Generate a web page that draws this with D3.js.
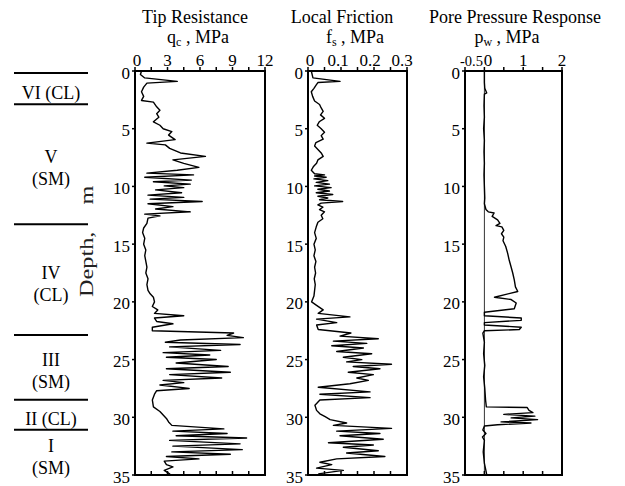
<!DOCTYPE html>
<html>
<head>
<meta charset="utf-8">
<script src="https://cdn.jsdelivr.net/npm/d3@7"></script>
<style>
  body { margin: 0; background: #fff; }
  svg { display: block; }
  text { font-family: "Liberation Serif", "Times New Roman", serif; fill: #000; }
</style>
</head>
<body>
<svg id="chart" width="625" height="486"></svg>
<script>
// Depth axis
const depthTicks = [0, 5, 10, 15, 20, 25, 30, 35];

// Soil layers (top depth of each layer, m)
const layerNames = ["VI", "V", "IV", "III", "II", "I"];
const layerSoils = ["CL", "SM", "CL", "SM", "CL", "SM"];
const layerTops = [0, 2.7, 13.1, 22.7, 28.3, 30.9];

// Tick values per panel
const tipTicks = [0, 3, 6, 9, 12];
const frictionTicks = [0, 0.1, 0.2, 0.3];
const poreTicks = [-0.5, 0, 1, 2];
const poreTickLabels = ["-0.5", "0", "1", "2"];

// [depth m, qc MPa]
const tipResistance = [
  [0.0,0.6],[0.3,0.5],[0.6,0.9],[0.9,3.9],[1.05,1.1],[1.4,0.8],[1.8,0.6],[2.2,0.8],[2.55,0.6],[2.7,1.7],
  [3.1,2.0],[3.4,2.3],[3.7,2.0],[4.0,2.2],[4.4,1.7],[4.7,2.3],[5.0,2.6],[5.25,3.4],[5.55,3.1],[5.95,3.7],
  [6.25,1.1],[6.4,2.8],[6.7,3.2],[7.1,4.2],[7.4,6.5],[7.7,3.5],[8.0,4.5],[8.35,5.9],[8.6,3.9],[8.85,1.1],
  [9.0,5.4],[9.2,0.9],[9.45,5.2],[9.6,1.7],[9.8,5.1],[9.95,2.7],[10.1,4.5],[10.3,1.9],[10.55,4.3],[10.75,1.2],
  [10.95,4.5],[11.1,1.4],[11.3,6.2],[11.5,1.2],[11.75,3.5],[11.95,1.9],[12.2,5.1],[12.4,0.9],[12.55,2.3],[12.75,1.2],
  [13.2,1.1],[13.6,0.8],[14.0,0.7],[14.5,0.9],[15.0,0.8],[15.5,1.0],[16.0,0.9],[16.5,1.0],[17.0,1.1],[17.5,1.0],
  [18.0,1.2],[18.5,1.1],[19.0,1.2],[19.3,1.4],[19.6,1.7],[20.0,1.8],[20.4,1.6],[20.7,2.1],[21.0,1.8],[21.2,4.5],
  [21.4,1.8],[21.7,2.0],[21.9,3.5],[22.2,1.6],[22.5,1.6],[22.7,9.1],[22.9,8.5],[23.1,10.0],[23.3,4.2],[23.5,2.8],
  [23.7,9.7],[23.9,3.2],[24.2,7.9],[24.4,2.6],[24.6,6.9],[24.8,2.9],[25.0,7.5],[25.3,3.8],[25.6,8.6],[25.8,2.9],
  [26.1,8.8],[26.3,3.2],[26.6,8.0],[26.8,2.6],[27.0,4.5],[27.2,2.3],[27.5,5.0],[27.7,2.0],[28.0,1.8],[28.5,1.6],
  [29.1,1.7],[29.5,2.3],[29.8,2.6],[30.1,2.9],[30.4,3.1],[30.7,3.4],[31.0,8.2],[31.2,3.5],[31.4,8.5],[31.6,3.8],
  [31.8,10.3],[32.0,3.2],[32.3,9.7],[32.5,3.5],[32.8,9.9],[33.0,3.4],[33.2,8.8],[33.4,2.9],[33.6,5.9],[33.8,2.7],
  [34.1,2.9],[34.3,3.5],[34.6,2.7],[34.9,3.2],[35.0,3.0]
];

// [depth m, fs MPa]
const localFriction = [
  [0.0,0.01],[0.6,0.015],[0.9,0.097],[1.0,0.03],[1.2,0.025],[1.5,0.018],[1.8,0.01],[2.2,0.014],[2.6,0.02],[2.9,0.035],
  [3.2,0.04],[3.5,0.046],[3.8,0.038],[4.1,0.05],[4.4,0.034],[4.7,0.028],[5.0,0.04],[5.3,0.05],[5.6,0.04],[5.9,0.046],
  [6.2,0.024],[6.5,0.02],[6.8,0.03],[7.1,0.04],[7.4,0.046],[7.7,0.03],[8.0,0.026],[8.3,0.016],[8.6,0.01],[8.9,0.02],
  [9.0,0.05],[9.1,0.02],[9.2,0.055],[9.35,0.018],[9.5,0.06],[9.65,0.025],[9.8,0.065],[9.95,0.02],[10.1,0.07],[10.25,0.03],
  [10.4,0.065],[10.55,0.025],[10.7,0.075],[10.85,0.03],[11.0,0.06],[11.15,0.035],[11.3,0.105],[11.45,0.04],[11.6,0.03],[11.8,0.045],
  [12.0,0.035],[12.2,0.05],[12.5,0.04],[12.8,0.045],[13.1,0.03],[13.5,0.025],[14.0,0.02],[14.5,0.025],[15.0,0.018],[15.5,0.022],
  [16.0,0.018],[16.5,0.024],[17.0,0.02],[17.5,0.023],[18.0,0.019],[18.5,0.022],[19.0,0.02],[19.5,0.018],[20.0,0.011],[20.3,0.026],
  [20.7,0.046],[21.0,0.031],[21.3,0.127],[21.5,0.026],[21.8,0.087],[22.0,0.026],[22.4,0.031],[22.7,0.13],[22.97,0.097],[23.2,0.213],
  [23.4,0.077],[23.6,0.178],[23.8,0.072],[24.0,0.168],[24.3,0.087],[24.5,0.193],[24.8,0.107],[25.0,0.163],[25.2,0.117],[25.4,0.253],
  [25.6,0.137],[25.8,0.218],[26.1,0.122],[26.3,0.198],[26.6,0.148],[26.8,0.183],[27.1,0.127],[27.4,0.031],[27.8,0.188],[28.0,0.036],
  [28.3,0.188],[28.5,0.036],[28.95,0.021],[29.4,0.026],[29.7,0.036],[29.95,0.052],[30.2,0.067],[30.5,0.117],[30.7,0.077],[30.96,0.253],
  [31.2,0.087],[31.4,0.218],[31.6,0.097],[31.9,0.228],[32.2,0.062],[32.4,0.198],[32.6,0.107],[32.9,0.213],[33.1,0.117],[33.4,0.233],
  [33.6,0.087],[33.9,0.036],[34.1,0.072],[34.4,0.026],[34.6,0.107],[34.9,0.031]
];

// [depth m, pw MPa]
const porePressure = [
  [0,0.0],[1.0,0.0],[1.5,0.01],[1.9,0.06],[2.0,0.0],[3.0,-0.01],[4.0,0.0],[5.0,-0.02],[6.0,0.0],[7.0,-0.01],
  [8.0,0.0],[9.0,-0.01],[10.0,0.0],[11.0,0.01],[11.5,0.0],[12.0,0.04],[12.2,0.1],[12.3,0.25],[12.6,0.2],[12.9,0.34],
  [13.2,0.4],[13.4,0.3],[13.5,0.45],[13.8,0.5],[14.1,0.44],[14.4,0.5],[14.7,0.48],[15.2,0.55],[15.8,0.6],[16.4,0.64],
  [17.0,0.69],[17.5,0.73],[18.1,0.77],[18.7,0.8],[19.1,0.86],[19.6,0.26],[19.8,0.69],[20.1,0.82],[20.6,0.77],[20.9,0.0],
  [21.2,0.0],[21.4,0.95],[21.6,0.95],[21.8,0.0],[22.0,0.0],[22.2,0.95],[22.4,0.9],[22.5,0.0],[22.7,-0.04],[23.5,0.0],
  [24.5,-0.02],[25.5,0.01],[26.5,-0.02],[27.5,0.01],[28.5,0.03],[29.1,0.05],[29.15,1.1],[29.4,1.15],[29.6,1.25],[29.75,0.5],
  [29.9,1.3],[30.05,0.69],[30.2,1.37],[30.4,0.43],[30.5,1.2],[30.65,0.34],[30.75,0.0],[31.1,-0.04],[31.4,0.04],[31.7,-0.05],
  [32.0,0.0],[33.0,-0.03],[34.0,0.0],[34.8,0.05],[35,0.06]
];

const svg = d3.select("#chart");
const plotTop = 71, plotBottom = 475;
const y = d3.scaleLinear().domain([0, 35]).range([plotTop, plotBottom]);

const panels = [
  { title: "Tip Resistance", sym: "q", sub: "c", titleX: 195, unitX: 198,
    x0: 135, x1: 265, domain: [0, 12], ticks: tipTicks, labels: tipTicks.map(String),
    labelDx: [2, 0, 0, 0, 0], labelSize: [], step: 1.5, data: tipResistance },
  { title: "Local Friction", sym: "f", sub: "s", titleX: 342, unitX: 355,
    x0: 308, x1: 407, domain: [0, 0.3], ticks: frictionTicks, labels: frictionTicks.map(String),
    labelDx: [2, -3, -4, -5], labelSize: [], step: 0.05, data: localFriction },
  { title: "Pore Pressure Response", sym: "p", sub: "w", titleX: 515, unitX: 507,
    x0: 465, x1: 562, domain: [-0.5, 2], ticks: poreTicks, labels: poreTickLabels,
    labelDx: [6.5, 3.5, 0, 0], labelSize: [14.5], step: 0.5, data: porePressure, zeroLine: true }
];

panels.forEach(p => {
  const x = d3.scaleLinear().domain(p.domain).range([p.x0, p.x1]);
  const g = svg.append("g");
  const allTicks = d3.range(p.domain[0], p.domain[1] + p.step / 2, p.step);

  // titles
  g.append("text").attr("x", p.titleX).attr("y", 23)
    .attr("text-anchor", "middle").style("font-size", "18px").text(p.title);
  const unit = g.append("text").attr("x", p.unitX).attr("y", 43)
    .attr("text-anchor", "middle").style("font-size", "18px");
  unit.append("tspan").text(p.sym);
  unit.append("tspan").attr("dy", 3).style("font-size", "12px").text(p.sub);
  unit.append("tspan").attr("dy", -3).text(" , MPa");

  // zero reference line
  if (p.zeroLine) {
    g.append("line").attr("x1", x(0)).attr("x2", x(0)).attr("y1", plotTop).attr("y2", plotBottom)
      .attr("stroke", "#000").attr("stroke-width", 0.8);
  }

  // profile
  g.append("path").datum(p.data)
    .attr("fill", "none").attr("stroke", "#000").attr("stroke-width", 1.4)
    .attr("stroke-linejoin", "round")
    .attr("d", d3.line().x(d => x(d[1])).y(d => y(d[0])));

  // frame
  g.append("rect").attr("x", p.x0).attr("y", plotTop)
    .attr("width", p.x1 - p.x0).attr("height", plotBottom - plotTop)
    .attr("fill", "none").attr("stroke", "#000").attr("stroke-width", 2);

  // top ticks (outward) and bottom ticks (inward)
  g.selectAll(".tt").data(allTicks).enter().append("line")
    .attr("x1", d => x(d)).attr("x2", d => x(d)).attr("y1", plotTop).attr("y2", plotTop - 4)
    .attr("stroke", "#000").attr("stroke-width", 1.5);
  g.selectAll(".bt").data(allTicks).enter().append("line")
    .attr("x1", d => x(d)).attr("x2", d => x(d)).attr("y1", plotBottom).attr("y2", plotBottom - 4)
    .attr("stroke", "#000").attr("stroke-width", 1.5);

  // top tick labels
  g.selectAll(".tl").data(p.ticks).enter().append("text")
    .attr("x", (d, i) => x(d) + p.labelDx[i]).attr("y", plotTop - 5)
    .attr("text-anchor", "middle")
    .style("font-size", (d, i) => (p.labelSize[i] || 17) + "px")
    .text((d, i) => p.labels[i]);

  // depth ticks and labels
  g.selectAll(".dt").data(depthTicks).enter().append("line")
    .attr("x1", p.x0).attr("x2", p.x0 - 3).attr("y1", d => y(d)).attr("y2", d => y(d))
    .attr("stroke", "#000").attr("stroke-width", 1.5);
  g.selectAll(".dl").data(depthTicks).enter().append("text")
    .attr("x", p.x0 - 5).attr("y", d => y(d) + 2)
    .attr("text-anchor", "end").attr("dominant-baseline", "central")
    .style("font-size", "17px").text(d => d);
});

// Depth axis title (stretched along its length, wide gap before the unit)
const depthTitle = svg.append("text")
  .attr("transform", "translate(93,297) rotate(-90) scale(1.35,1)")
  .style("font-size", "18px").style("fill", "#222");
depthTitle.append("tspan").text("Depth,");
depthTitle.append("tspan").attr("dx", 20).text("m");

// Soil layer column
const layers = layerNames.map((name, i) => ({
  name, soil: layerSoils[i], top: layerTops[i],
  bottom: i + 1 < layerTops.length ? layerTops[i + 1] : 35
}));
svg.selectAll(".sep").data(layers).enter().append("line")
  .attr("x1", 14).attr("x2", 88)
  .attr("y1", d => y(d.top) + 2).attr("y2", d => y(d.top) + 2)
  .attr("stroke", "#000").attr("stroke-width", 2);

layers.forEach(l => {
  const cy = (y(l.top) + y(l.bottom)) / 2 + 6;
  const thin = (l.bottom - l.top) < 3;
  if (thin) {
    svg.append("text").attr("x", 51).attr("y", cy).attr("dominant-baseline", "central")
      .attr("text-anchor", "middle").style("font-size", "18px").text(l.name + " (" + l.soil + ")");
  } else {
    svg.append("text").attr("x", 51).attr("y", cy - 11).attr("dominant-baseline", "central")
      .attr("text-anchor", "middle").style("font-size", "18px").text(l.name);
    svg.append("text").attr("x", 51).attr("y", cy + 11).attr("dominant-baseline", "central")
      .attr("text-anchor", "middle").style("font-size", "18px").text("(" + l.soil + ")");
  }
});
</script>
</body>
</html>
